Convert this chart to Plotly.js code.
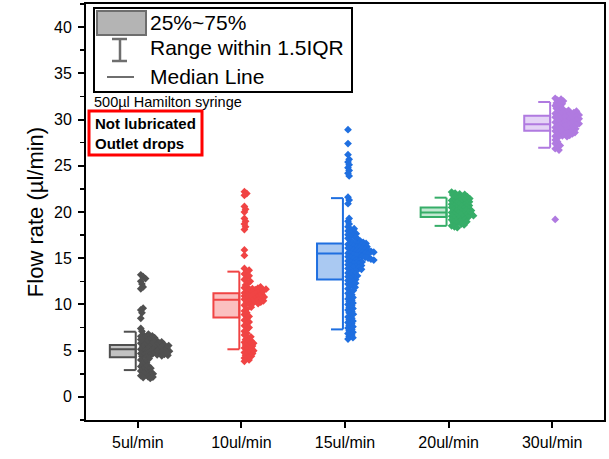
<!DOCTYPE html>
<html>
<head>
<meta charset="utf-8">
<script src="https://cdn.plot.ly/plotly-3.0.1.min.js"></script>
<style>html,body{margin:0;padding:0;background:#fff;}#chart{width:609px;height:459px;}</style>
</head>
<body>
<div id="chart"></div>
<script>
// ---- data ----
var categories = ['5ul/min', '10ul/min', '15ul/min', '20ul/min', '30ul/min'];
var q1 = [4.3, 8.6, 12.7, 19.45, 28.8];
var median = [5.15, 10.5, 15.5, 19.95, 29.5];
var q3 = [5.6, 11.2, 16.6, 20.5, 30.4];
var whiskerLow = [2.9, 5.15, 7.3, 18.5, 26.95];
var whiskerHigh = [7.05, 13.55, 21.5, 21.55, 31.9];

var points5 = [13.2, 13.0, 12.8, 12.5, 12.2, 11.9, 11.7, 9.6, 9.4, 9.1, 8.5, 7.4, 7.1,
  6.8, 6.7, 6.6, 6.55, 6.5, 6.4, 6.35, 6.3, 6.2,
  6.15, 6.1, 6.05, 6.0, 5.95, 5.9, 5.85, 5.8, 5.75, 5.7, 5.65, 5.6, 5.55, 5.5, 5.45, 5.4, 5.35, 5.3,
  5.25, 5.2, 5.15, 5.1, 5.05, 5.0, 4.95, 4.9, 4.85, 4.8, 4.75, 4.7, 4.65, 4.6, 4.55, 4.5, 4.45, 4.4,
  5.0, 4.9, 4.8, 4.7, 4.6, 4.5,
  4.3, 4.15, 4.0, 3.85, 3.7, 3.55, 3.4, 3.3, 3.2, 3.1, 3.0, 2.9, 2.8, 2.75, 2.7, 2.6, 2.55, 2.5,
  2.4, 2.35, 2.3, 2.2, 2.15, 2.1, 2.0];
var points10 = [22.2, 22.0, 21.8, 20.6, 20.3, 20.0, 19.3, 19.0, 18.7, 18.4, 18.1, 15.9, 15.3,
  13.9, 13.7, 13.5, 13.3, 13.1, 12.9, 12.7, 12.5, 12.3, 12.1,
  11.9, 11.85, 11.8, 11.75, 11.7, 11.65, 11.6, 11.55, 11.5, 11.45, 11.4, 11.35, 11.3, 11.25, 11.2,
  11.15, 11.1, 11.05, 11.0, 10.95, 10.9, 10.85, 10.8, 10.75, 10.7, 10.65, 10.6, 10.55, 10.5, 10.45,
  10.4, 10.35, 10.3, 10.25, 10.2, 10.15, 10.1, 10.0,
  9.9, 9.7, 9.5, 9.3, 9.1, 8.9, 8.7, 8.5, 8.3, 8.1, 7.9, 7.7, 7.5, 7.3, 7.1, 6.9, 6.7, 6.5, 6.35, 6.2,
  6.1, 6.0, 5.9, 5.8, 5.7, 5.6, 5.5, 5.4, 5.3, 5.2, 5.1, 5.0, 4.9, 4.8, 4.7, 4.6, 4.5, 4.4, 4.3, 4.2, 4.0, 3.85];
var points15 = [28.9, 27.4, 26.2, 25.7, 25.4, 25.1, 24.8, 24.5, 24.2, 23.9, 21.6, 21.3, 20.9,
  19.3, 19.0, 18.7, 18.4, 18.2,
  18.05, 17.95, 17.85, 17.75, 17.65, 17.55, 17.45, 17.35, 17.25, 17.15, 17.05, 16.95, 16.85, 16.75, 16.7, 16.65,
  16.6, 16.55, 16.5, 16.45, 16.4, 16.35, 16.3, 16.25, 16.2, 16.15, 16.1, 16.05, 16.0, 15.95, 15.9, 15.85,
  15.8, 15.75, 15.7, 15.65, 15.6, 15.55, 15.5, 15.45, 15.4, 15.35, 15.3, 15.25, 15.2, 15.15, 15.1, 15.05,
  15.0, 14.95, 14.9, 14.85, 14.8,
  14.75, 14.7, 14.6, 14.55, 14.5, 14.4, 14.35, 14.3, 14.2, 14.15, 14.1, 14.0, 13.95, 13.9, 13.8, 13.7,
  13.6, 13.5, 13.4, 13.3, 13.2, 13.1, 13.0, 12.9, 12.8, 12.7, 12.6, 12.5, 12.4, 12.3, 12.2, 12.1, 12.0, 11.85, 11.7,
  11.5, 11.35, 11.2, 11.05, 10.9, 10.75, 10.6, 10.45, 10.3, 10.15, 10.0, 9.85, 9.7, 9.55, 9.4, 9.25, 9.1,
  8.95, 8.8, 8.65, 8.5, 8.35, 8.2, 8.05, 7.9, 7.75, 7.6, 7.45, 7.3, 7.15, 7.0, 6.85, 6.7, 6.55, 6.4, 6.25];
var points20 = [22.15, 22.05, 21.95, 21.9, 21.85, 21.8, 21.7, 21.65, 21.6, 21.55,
  21.5, 21.45, 21.4, 21.35, 21.3, 21.25, 21.2, 21.15, 21.1, 21.05, 21.0, 20.95, 20.9, 20.85, 20.8,
  20.75, 20.7, 20.65, 20.6, 20.55, 20.5, 20.45, 20.4, 20.35, 20.3, 20.25, 20.2, 20.15, 20.1, 20.05,
  20.0, 19.95, 19.9, 19.85, 19.8, 19.75, 19.7, 19.65, 19.6, 19.55, 19.5, 19.45, 19.4, 19.35,
  19.3, 19.2, 19.15, 19.1, 19.0, 18.95, 18.9, 18.8, 18.7, 18.6, 18.5, 18.4, 18.3];
var points30 = [32.3, 32.2, 32.1, 32.0, 31.9, 31.8, 31.7, 31.6, 31.5, 31.35, 31.2, 31.1,
  31.0, 30.95, 30.9, 30.85, 30.8, 30.75, 30.7, 30.65, 30.6, 30.55, 30.5, 30.45, 30.4, 30.35, 30.3,
  30.25, 30.2, 30.15, 30.1, 30.05, 30.0, 29.95, 29.9, 29.85, 29.8, 29.75, 29.7, 29.65, 29.6, 29.55,
  29.5, 29.45, 29.4, 29.35, 29.3, 29.25, 29.2, 29.15, 29.1, 29.05, 29.0, 28.95, 28.9, 28.85, 28.8,
  28.75, 28.7, 28.65, 28.6, 28.55, 28.5, 28.45, 28.4, 28.35, 28.3, 28.25, 28.2, 28.15,
  28.0, 27.8, 27.6, 27.4, 27.2, 27.0, 26.85, 26.7, 19.2];

// ---- styling ----
var pointSets = [points5, points10, points15, points20, points30];
var lineColors = ['#505050', '#f04444', '#1f6fe0', '#36ad68', '#b07ae0'];
var fillColors = ['#c2c2c2', '#fbc0c0', '#aac9f2', '#c2e8d2', '#e4d3f6'];
var FONT = 'Liberation Sans, Arial, sans-serif';

var L = 86, R = 604, T = 4, B = 420;
var xRange = [-0.5, 4.5], yRange = [-2.5, 42.5];
var XPX = (R - L) / (xRange[1] - xRange[0]);   // px per x unit
var YPX = (B - T) / (yRange[1] - yRange[0]);   // px per y unit

var boxW = 0.25, boxShift = -0.145, capLen = 0.115;
var swarmStart = 3 / XPX, swarmGap = 3.0;

function gcd(a, b) { return b ? gcd(b, a % b) : a; }
// one-sided swarm: each point moved right just enough not to overlap the ones already placed.
// points are visited in a scrambled (golden-ratio stride) order so the clouds look organic.
function swarm(values, base) {
  var n = values.length;
  var sorted = values.map(function (v, k) { return k; }).sort(function (a, b) { return values[b] - values[a]; });
  var step = Math.max(1, Math.round(n * 0.618));
  while (gcd(step, n) !== 1) step++;
  var placed = [], xs = new Array(n);
  for (var j = 0; j < n; j++) {
    var k = sorted[(j * step) % n];
    var yp = values[k] * YPX;
    var cands = [0];
    placed.forEach(function (p) {
      var dy = yp - p.y;
      if (Math.abs(dy) < swarmGap) cands.push(p.x + Math.sqrt(swarmGap * swarmGap - dy * dy));
    });
    cands.sort(function (a, b) { return a - b; });
    var chosen = cands.find(function (c) {
      return placed.every(function (p) {
        var dy = yp - p.y, dx = c - p.x;
        return dx * dx + dy * dy >= swarmGap * swarmGap - 1e-6;
      });
    });
    placed.push({x: chosen, y: yp});
    xs[k] = base + chosen / XPX;
  }
  return xs;
}

var traces = [];
categories.forEach(function (c, i) {
  var bx = i + boxShift;
  var right = bx + boxW / 2;
  traces.push({
    type: 'box', x: [bx], q1: [q1[i]], median: [median[i]], q3: [q3[i]],
    lowerfence: [q1[i]], upperfence: [q3[i]],
    width: boxW, whiskerwidth: 0, boxpoints: false,
    fillcolor: fillColors[i], line: {color: lineColors[i], width: 2},
    showlegend: false, hoverinfo: 'skip'
  });
  traces.push({
    type: 'scatter', mode: 'lines',
    x: [right, right, null, right - capLen, right, null, right - capLen, right],
    y: [whiskerLow[i], whiskerHigh[i], null, whiskerLow[i], whiskerLow[i], null, whiskerHigh[i], whiskerHigh[i]],
    line: {color: lineColors[i], width: 2}, showlegend: false, hoverinfo: 'skip'
  });
  traces.push({
    type: 'scatter', mode: 'markers',
    x: swarm(pointSets[i], i + swarmStart), y: pointSets[i],
    marker: {symbol: 'diamond', size: 6, color: lineColors[i], line: {width: 0}},
    showlegend: false, hoverinfo: 'y'
  });
});

function px(x) { return (x - L) / (R - L); }
function py(y) { return (B - y) / (B - T); }

var shapes = [
  {type: 'rect', xref: 'paper', yref: 'paper', x0: px(94), x1: px(352), y0: py(92), y1: py(8), line: {color: '#000', width: 2}, fillcolor: '#fff', layer: 'above'},
  {type: 'rect', xref: 'paper', yref: 'paper', x0: px(97), x1: px(146), y0: py(35), y1: py(11), line: {color: '#6e6e6e', width: 2}, fillcolor: '#b4b4b4', layer: 'above'},
  {type: 'line', xref: 'paper', yref: 'paper', x0: px(120), x1: px(120), y0: py(61), y1: py(39), line: {color: '#6e6e6e', width: 2.5}, layer: 'above'},
  {type: 'line', xref: 'paper', yref: 'paper', x0: px(112), x1: px(127), y0: py(39), y1: py(39), line: {color: '#6e6e6e', width: 2.5}, layer: 'above'},
  {type: 'line', xref: 'paper', yref: 'paper', x0: px(112), x1: px(127), y0: py(61), y1: py(61), line: {color: '#6e6e6e', width: 2.5}, layer: 'above'},
  {type: 'line', xref: 'paper', yref: 'paper', x0: px(107), x1: px(134), y0: py(77), y1: py(77), line: {color: '#6e6e6e', width: 2}, layer: 'above'},
  {type: 'rect', xref: 'paper', yref: 'paper', x0: px(89), x1: px(202), y0: py(155), y1: py(111), line: {color: '#ff0000', width: 3}, layer: 'above'}
];

function note(text, x, y, size, bold) {
  return {xref: 'paper', yref: 'paper', x: px(x), y: py(y), xanchor: 'left', yanchor: 'middle',
    text: bold ? '<b>' + text + '</b>' : text, showarrow: false,
    font: {family: FONT, size: size, color: '#000'}};
}
var annotations = [
  note('25%~75%', 148, 23, 21),
  note('Range within 1.5IQR', 148, 48, 21),
  note('Median Line', 148, 76, 21),
  note('500µl Hamilton syringe', 92, 102, 14.5),
  note('Not lubricated', 93, 123, 15, true),
  note('Outlet drops', 93, 143, 15, true)
];

var layout = {
  width: 609, height: 459,
  margin: {l: 86, r: 5, t: 4, b: 39},
  paper_bgcolor: '#fff', plot_bgcolor: '#fff',
  showlegend: false, boxmode: 'overlay',
  font: {family: FONT, color: '#000'},
  xaxis: {
    range: xRange, tickvals: [0, 1, 2, 3, 4], ticktext: categories,
    showgrid: false, zeroline: false, showline: true, linecolor: '#000', linewidth: 2, mirror: true,
    ticks: 'outside', ticklen: 6, tickwidth: 2, tickcolor: '#000',
    tickfont: {family: FONT, size: 16, color: '#000'}, ticklabelstandoff: 1
  },
  yaxis: {
    range: yRange, tick0: 0, dtick: 5,
    showgrid: false, zeroline: false, showline: true, linecolor: '#000', linewidth: 2, mirror: true,
    ticks: 'outside', ticklen: 6, tickwidth: 2, tickcolor: '#000',
    minor: {ticks: 'outside', dtick: 2.5, ticklen: 4, tickwidth: 1.5, tickcolor: '#000', showgrid: false},
    tickfont: {family: FONT, size: 16, color: '#000'}, ticklabelstandoff: 3,
    title: {text: 'Flow rate (µl/min)', font: {family: FONT, size: 22, color: '#000'}, standoff: 4}
  },
  shapes: shapes,
  annotations: annotations
};

Plotly.newPlot('chart', traces, layout, {staticPlot: true, displayModeBar: false});
</script>
</body>
</html>
